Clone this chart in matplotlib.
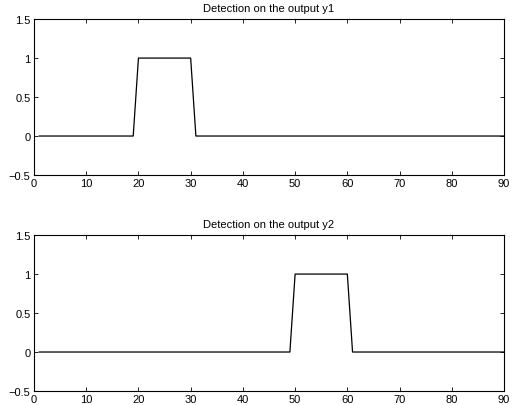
import matplotlib
matplotlib.use("Agg")
import matplotlib.pyplot as plt

# breakpoints of the two detection signals (sample index, flag)
x1 = [1, 19, 20, 30, 31, 90]
y1 = [0, 0, 1, 1, 0, 0]
x2 = [1, 49, 50, 60, 61, 90]
y2 = [0, 0, 1, 1, 0, 0]

titles = ["Detection on the output y1", "Detection on the output y2"]
xticks = [0, 10, 20, 30, 40, 50, 60, 70, 80, 90]
yticks = [-0.5, 0, 0.5, 1, 1.5]
ytick_labels = ["\u22120.5", "0", "0.5", "1", "1.5"]

plt.rcParams["font.family"] = ["Liberation Sans", "DejaVu Sans"]
plt.rcParams["font.size"] = 8

fig = plt.figure(figsize=(5.19, 4.06), dpi=100)
positions = [[0.0655, 0.5665, 0.9056, 0.384],
             [0.0655, 0.0345, 0.9056, 0.384]]

for pos, xs, ys, title in zip(positions, [x1, x2], [y1, y2], titles):
    ax = fig.add_axes(pos)
    ax.plot(xs, ys, color="black", linewidth=0.9)
    ax.set_xlim(0, 90)
    ax.set_ylim(-0.5, 1.5)
    ax.set_xticks(xticks)
    ax.set_yticks(yticks)
    ax.set_yticklabels(ytick_labels)
    ax.tick_params(direction="in", top=True, right=True, length=3,
                   width=0.6, labelsize=8, pad=2.5)
    for s in ax.spines.values():
        s.set_linewidth(0.8)
    ax.set_title(title, fontsize=8, pad=6)

fig.savefig("out.png", dpi=100)
